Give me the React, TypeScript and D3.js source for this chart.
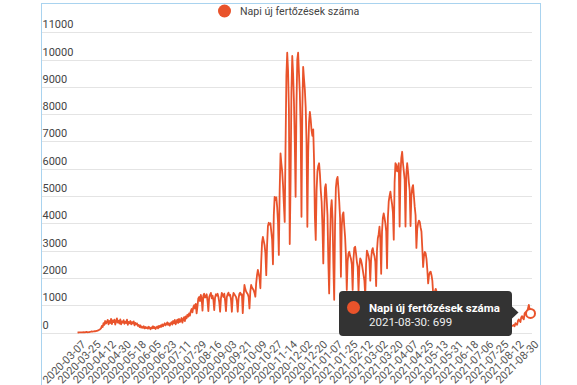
import React from "react";
import * as d3 from "d3";

const seriesName = "Napi új fertőzések száma";

// Daily new infections, 2020-03-07 .. 2021-08-30
const dailyCases: number[] = [
  2, 0, 2, 4, 3, 6, 3,
  11, 7, 9, 11, 20, 8, 12,
  18, 25, 30, 40, 35, 38, 45,
  45, 55, 60, 70, 85, 100, 120,
  150, 240, 200, 340, 280, 420, 330,
  380, 460, 300, 420, 350, 500, 310,
  440, 380, 470, 290, 400, 520, 360,
  430, 330, 480, 300, 410, 360, 450,
  320, 400, 350, 470, 280, 390, 340,
  420, 300, 380, 330, 410, 260, 350,
  300, 330, 240, 280, 200, 260, 180,
  210, 170, 230, 150, 200, 160, 190,
  140, 210, 170, 120, 190, 150, 230,
  160, 200, 130, 180, 220, 150, 240,
  190, 260, 210, 300, 230, 280, 340,
  260, 310, 370, 280, 340, 250, 330,
  380, 290, 420, 340, 460, 300, 390,
  470, 350, 500, 380, 430, 530, 360,
  480, 560, 420, 590, 520, 650, 580,
  700, 620, 780, 860, 740, 920, 1000,
  880, 1050, 700, 960, 1250, 1300, 1150,
  1380, 1240, 800, 1350, 1420, 1280, 1300,
  1400, 1150, 780, 1300, 1380, 1450, 1250,
  1350, 1200, 820, 1280, 1400, 1350, 1420,
  1300, 1100, 760, 1250, 1450, 1380, 1300,
  1420, 1150, 780, 1300, 1400, 1460, 1350,
  1380, 1200, 760, 1280, 1450, 1400, 1350,
  1300, 1150, 760, 1250, 1420, 1460, 1380,
  1400, 710, 1300, 1740, 1600, 1500, 1450,
  1400, 1300, 880, 1500, 1740, 1650, 1600,
  1550, 1450, 1310, 1800, 2100, 2290, 2150,
  2000, 1620, 2600, 3300, 3500, 3350, 3200,
  2900, 2100, 3200, 3900, 4020, 3950, 4000,
  3700, 3400, 2500, 4300, 4970, 4850, 4950,
  4600, 4050, 2840, 5200, 6560, 6200, 5900,
  5400, 4700, 4050, 6800, 9400, 10250, 9600,
  8200, 3240, 5500, 8800, 10130, 9490, 8500,
  7000, 4970, 8300, 10000, 10250, 9500, 8800,
  7500, 4240, 8200, 9730, 9300, 8900, 8260,
  7000, 3870, 6600, 7700, 8080, 7800, 7400,
  7200, 7440, 6300, 4200, 3390, 5200, 5900,
  6100, 6200, 5800, 5200, 4800, 3900, 2530,
  4200, 5300, 5430, 4900, 4300, 2600, 1430,
  3300, 4500, 4850, 4200, 2500, 1200, 3900,
  5300, 5600, 5700, 5300, 4800, 4200, 2040,
  3900, 4300, 4400, 3900, 3500, 2800, 1560,
  2600, 2900, 2960, 2800, 2700, 2500, 1560,
  2700, 3100, 3140, 2900, 2600, 2400, 1500,
  2400, 2710, 2650, 2500, 2300, 2100, 1900,
  1350, 2500, 3000, 2900, 2800, 2600, 1900,
  2700, 3000, 3090, 2900, 2800, 2600, 1700,
  3000, 3450, 3600, 3880, 3400, 2150, 3700,
  4200, 4360, 4200, 4000, 3700, 2350, 4200,
  4800, 5000, 5160, 4900, 4700, 4400, 3400,
  5500, 6200, 6150, 5900, 6000, 6200, 3880,
  5800, 6400, 6620, 6200, 5900, 5600, 3880,
  5800, 6200, 5900, 5500, 5200, 3900, 5000,
  5300, 5400, 5000, 4600, 4300, 3100, 3800,
  4000, 4100, 4050, 3850, 3700, 3100, 2400,
  2800, 2950, 2900, 2700, 2300, 1800, 2100,
  2200, 2230, 2100, 1900, 1400, 1300, 1500,
  1600, 1500, 1400, 1200, 900, 1100, 1200,
  1150, 1000, 900, 800, 600, 750, 800,
  700, 650, 600, 500, 380, 450, 480,
  420, 380, 330, 260, 200, 280, 300,
  250, 220, 190, 150, 120, 160, 170,
  140, 120, 100, 80, 60, 90, 100,
  80, 70, 60, 50, 30, 50, 60,
  50, 45, 40, 30, 20, 35, 40,
  35, 30, 30, 20, 15, 25, 30,
  30, 40, 45, 30, 25, 50, 60,
  70, 80, 90, 60, 50, 100, 120,
  130, 150, 160, 110, 90, 170, 190,
  200, 210, 220, 150, 130, 230, 250,
  240, 250, 280, 230, 340, 300, 280,
  420, 480, 430, 380, 560, 600, 520,
  480, 700, 740, 650, 600, 880, 1010,
  850, 699,
];

const yTicks = [0, 1000, 2000, 3000, 4000, 5000, 6000, 7000, 8000, 9000, 10000, 11000];

const xTickLabels = [
  "2020-03-07", "2020-03-25", "2020-04-12", "2020-04-30", "2020-05-18", "2020-06-05",
  "2020-06-23", "2020-07-11", "2020-07-29", "2020-08-16", "2020-09-03", "2020-09-21",
  "2020-10-09", "2020-10-27", "2020-11-14", "2020-12-02", "2020-12-20", "2021-01-07",
  "2021-01-25", "2021-02-12", "2021-03-02", "2021-03-20", "2021-04-07", "2021-04-25",
  "2021-05-13", "2021-05-31", "2021-06-18", "2021-07-06", "2021-07-25", "2021-08-12",
  "2021-08-30",
];

const missingDates = ["2021-07-15"];
const tooltipDate = "2021-08-30";
const tooltipValue = 699;

const COLOR = "#e9532b";
const FONT = "Roboto, 'Noto Sans', Arial, sans-serif";

export default function App() {
  const fmt = d3.timeFormat("%Y-%m-%d");
  const dates = d3.timeDay
    .range(new Date(2020, 2, 7), new Date(2021, 7, 31))
    .map((d) => fmt(d))
    .filter((d) => !missingDates.includes(d));

  const x = d3.scalePoint<string>().domain(dates).range([77.5, 530.5]);
  const y = d3.scaleLinear().domain([0, 11000]).range([332.5, 32.2]);

  const line = d3
    .line<number>()
    .x((_, i) => x(dates[i]) as number)
    .y((d) => y(d));

  const path = line(dailyCases.slice(0, dates.length)) || "";
  const lastX = x(tooltipDate) as number;
  const lastY = y(tooltipValue);

  return (
    <div style={{ position: "fixed", left: 0, top: 0 }}>
      <svg width={577} height={385} style={{ display: "block", fontFamily: FONT }}>
        <rect x={0} y={0} width={577} height={385} fill="#fff" />
        <rect x={41.5} y={3.5} width={499} height={420} fill="none" stroke="#a9d3ef" strokeWidth={1} />

        {/* legend */}
        <circle cx={224.5} cy={11} r={6.5} fill={COLOR} />
        <text x={240} y={15} fontSize={10.6} fill="#444">{seriesName}</text>

        {/* grid + y labels */}
        {yTicks.map((t) => (
          <g key={t}>
            <line x1={42} x2={532} y1={Math.round(y(t)) + 0.5} y2={Math.round(y(t)) + 0.5} stroke="#e4e4e4" strokeWidth={1} />
            <text x={42.5} y={y(t) - 4} fontSize={11} fill="#444">{t}</text>
          </g>
        ))}

        {/* x labels */}
        {xTickLabels.map((lab) => {
          const px = x(lab) as number;
          return (
            <text
              key={lab}
              transform={`translate(${px + 9},${345}) rotate(-45)`}
              textAnchor="end"
              fontSize={11}
              fill="#555"
            >
              {lab}
            </text>
          );
        })}

        {/* series line */}
        <path d={path} fill="none" stroke={COLOR} strokeWidth={1.8} strokeLinejoin="round" />

        {/* tooltip */}
        <g>
          <rect x={339} y={291} width={173} height={45} rx={4} fill="#333" />
          <path d="M511.5,306 L518.5,312.5 L511.5,319 Z" fill="#333" />
          <circle cx={353.5} cy={307.5} r={6.5} fill={COLOR} />
          <text x={369} y={311.5} fontSize={11.5} fontWeight="bold" fill="#fff">{seriesName}</text>
          <text x={369} y={326} fontSize={11.5} fill="#eee">{`${tooltipDate}: ${tooltipValue}`}</text>
        </g>

        <circle cx={lastX} cy={lastY} r={4.5} fill="#fff" stroke={COLOR} strokeWidth={2} />
      </svg>
    </div>
  );
}
